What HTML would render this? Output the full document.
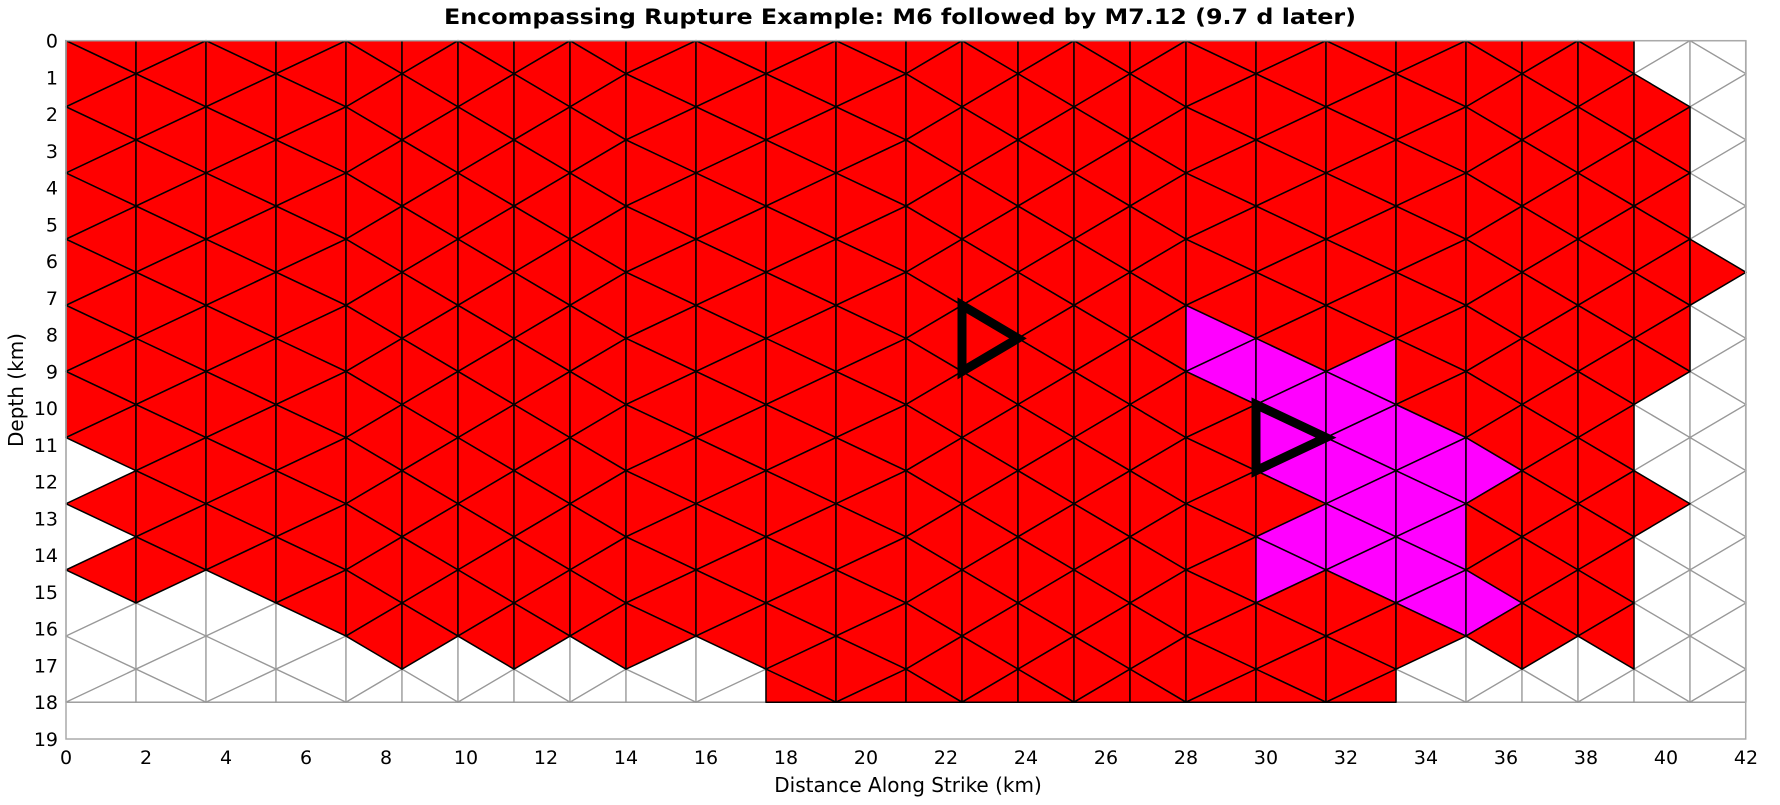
<!DOCTYPE html>
<html><head><meta charset="utf-8"><style>
html,body{margin:0;padding:0;background:#fff;}
svg text{font-family:"DejaVu Sans","Liberation Sans",sans-serif;fill:#000;}
</style></head><body>
<svg id="chart" width="1780" height="800" viewBox="0 0 1780 800" xmlns="http://www.w3.org/2000/svg">
<text x="900" y="24" text-anchor="middle" font-size="21" font-weight="bold" textLength="912" lengthAdjust="spacingAndGlyphs">Encompassing Rupture Example: M6 followed by M7.12 (9.7 d later)</text>
<rect x="66" y="40.7" width="1679.7" height="698.3" fill="#fff"/>
<g id="mesh"></g>
<g id="quakes"></g>
<rect x="66" y="40.7" width="1679.7" height="698.3" fill="none" stroke="#aaa" stroke-width="1.5"/>
<g id="yticks"></g>
<g id="xticks"></g>
<text x="908" y="792" text-anchor="middle" font-size="20">Distance Along Strike (km)</text>
<text x="0" y="0" transform="translate(23,390) rotate(-90)" text-anchor="middle" font-size="20">Depth (km)</text>
</svg>
<script>
// column widths along strike (km)
const colWidths = [1.75,1.75,1.75,1.75,1.4,1.4,1.4,1.4,1.4,1.75,1.75,1.75,1.75,1.4,1.4,1.4,1.4,1.4,1.75,1.75,1.75,1.75,1.4,1.4,1.4,1.4,1.4];
// per-column triangle states (index j = 0..20 down-dip): R red, M magenta, W white
const colors = [
"RRRRRRRRRRRRRWRWRWWWW",
"RRRRRRRRRRRRRRRRRWWWW",
"RRRRRRRRRRRRRRRRRWWWW",
"RRRRRRRRRRRRRRRRRRWWW",
"RRRRRRRRRRRRRRRRRRRWW",
"RRRRRRRRRRRRRRRRRRRWW",
"RRRRRRRRRRRRRRRRRRRWW",
"RRRRRRRRRRRRRRRRRRRWW",
"RRRRRRRRRRRRRRRRRRRWW",
"RRRRRRRRRRRRRRRRRRRWW",
"RRRRRRRRRRRRRRRRRRRWW",
"RRRRRRRRRRRRRRRRRRRRR",
"RRRRRRRRRRRRRRRRRRRRR",
"RRRRRRRRRRRRRRRRRRRRR",
"RRRRRRRRRRRRRRRRRRRRR",
"RRRRRRRRRRRRRRRRRRRRR",
"RRRRRRRRRRRRRRRRRRRRR",
"RRRRRRRRRRRRRRRRRRRRR",
"RRRRRRRRRMMRRRRRRRRRR",
"RRRRRRRRRRMMMMRMMRRRR",
"RRRRRRRRRRMMMMMMMRRRR",
"RRRRRRRRRRRRMMMMMMRWW",
"RRRRRRRRRRRRRMRRRMRWW",
"RRRRRRRRRRRRRRRRRRRWW",
"RRRRRRRRRRRRRRRRRRRWW",
"WWRRRRRRRRRWWWRWWWWWW",
"WWWWWWWRWWWWWWWWWWWWW"
];
// hypocenter triangles: column index and triangle index
const quakeCols = [14, 19];
const quakeTris = [9, 12];
const xTickVals = [0,2,4,6,8,10,12,14,16,18,20,22,24,26,28,30,32,34,36,38,40,42];
const yTickVals = [0,1,2,3,4,5,6,7,8,9,10,11,12,13,14,15,16,17,18,19];
const rowStep = 0.9, maxDepth = 18;

const NS = "http://www.w3.org/2000/svg";
const X = km => 66 + 40 * km;
const Y = d => 40.7 + 36.75 * d;
const colLeft = [0];
for (let i = 0; i < colWidths.length; i++) colLeft.push(colLeft[i] + colWidths[i]);

function triPoints(i, j) {
  const xl = colLeft[i], xr = colLeft[i + 1];
  const clip = v => Math.max(0, Math.min(maxDepth, v));
  const a = clip((j - 1) * rowStep), b = j * rowStep, c = clip((j + 1) * rowStep);
  const midLeft = (j % 2) === (i % 2);
  const xm = midLeft ? xl : xr, xo = midLeft ? xr : xl;
  return [[X(xm), Y(b)], [X(xo), Y(a)], [X(xo), Y(c)]];
}
const ptsStr = p => p.map(q => q[0].toFixed(2) + "," + q[1].toFixed(2)).join(" ");

const mesh = document.getElementById("mesh");
const fills = { R: "#ff0000", M: "#ff00ff", W: "#ffffff" };
["W", "C"].forEach(pass => {
  for (let i = 0; i < colors.length; i++) {
    for (let j = 0; j < colors[i].length; j++) {
      const s = colors[i][j];
      if ((pass === "W") !== (s === "W")) continue;
      const el = document.createElementNS(NS, "polygon");
      el.setAttribute("points", ptsStr(triPoints(i, j)));
      el.setAttribute("fill", fills[s]);
      el.setAttribute("stroke", s === "W" ? "#999" : "#000");
      el.setAttribute("stroke-width", s === "W" ? "1.3" : "1.5");
      el.setAttribute("stroke-linejoin", "round");
      
      
      mesh.appendChild(el);
    }
  }
});
// bottom line of the mesh in the empty strip
const bl = document.createElementNS(NS, "line");
bl.setAttribute("x1", X(0)); bl.setAttribute("x2", X(colLeft[colLeft.length - 1]));
bl.setAttribute("y1", Y(maxDepth)); bl.setAttribute("y2", Y(maxDepth));
bl.setAttribute("stroke", "#999"); bl.setAttribute("stroke-width", "1.2");


mesh.insertBefore(bl, mesh.firstChild);

const qg = document.getElementById("quakes");
for (let k = 0; k < quakeCols.length; k++) {
  const el = document.createElementNS(NS, "polygon");
  el.setAttribute("points", ptsStr(triPoints(quakeCols[k], quakeTris[k])));
  el.setAttribute("fill", "none");
  el.setAttribute("stroke", "#000");
  el.setAttribute("stroke-width", "9");
  el.setAttribute("stroke-linejoin", "miter");
  el.setAttribute("stroke-miterlimit", "10");
  
  
  qg.appendChild(el);
}

const yg = document.getElementById("yticks");
yTickVals.forEach(v => {
  const t = document.createElementNS(NS, "text");
  t.setAttribute("x", 58); t.setAttribute("y", Y(v) + 7);
  t.setAttribute("text-anchor", "end"); t.setAttribute("font-size", "19");
  t.textContent = v;
  
  
  yg.appendChild(t);
});
const xg = document.getElementById("xticks");
xTickVals.forEach(v => {
  const t = document.createElementNS(NS, "text");
  t.setAttribute("x", X(v)); t.setAttribute("y", 764);
  t.setAttribute("text-anchor", "middle"); t.setAttribute("font-size", "19");
  t.textContent = v;
  
  
  xg.appendChild(t);
});
</script>
</body></html>
